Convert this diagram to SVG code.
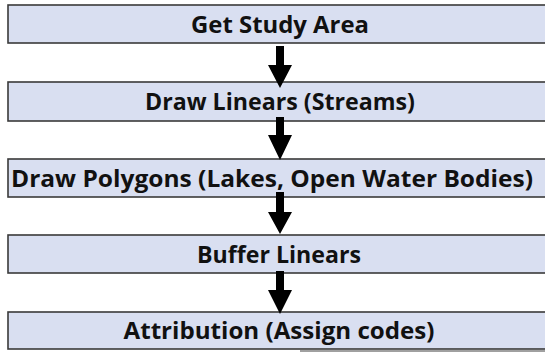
<svg xmlns="http://www.w3.org/2000/svg" width="545" height="352" viewBox="0 0 545 352">
  <style>
    .box { fill: #d9dff1; stroke: #3a3a3a; stroke-width: 1.6; }
    .label { font-family: "Open Sans", "Liberation Sans", sans-serif; font-weight: 700; font-size: 23.5px; fill: #111111; text-anchor: middle; }
    .arrow { fill: #000000; }
  </style>
  <rect width="545" height="352" fill="#ffffff"/>
  <g id="step-study-area">
    <rect class="box" x="8" y="5" width="545" height="38"/>
    <text class="label" x="280" y="33" textLength="178" lengthAdjust="spacingAndGlyphs">Get Study Area</text>
  </g>
  <g id="step-linears">
    <rect class="box" x="8" y="82" width="545" height="39"/>
    <text class="label" x="280" y="110" textLength="270" lengthAdjust="spacingAndGlyphs">Draw Linears (Streams)</text>
  </g>
  <g id="step-polygons">
    <rect class="box" x="8" y="159" width="545" height="38"/>
    <text class="label" x="272" y="187" textLength="522" lengthAdjust="spacingAndGlyphs">Draw Polygons (Lakes, Open Water Bodies)</text>
  </g>
  <g id="step-buffer">
    <rect class="box" x="8" y="235" width="545" height="38"/>
    <text class="label" x="279" y="263" textLength="164" lengthAdjust="spacingAndGlyphs">Buffer Linears</text>
  </g>
  <g id="step-attribution">
    <rect class="box" x="8" y="312" width="545" height="37"/>
    <text class="label" x="279" y="339" textLength="311" lengthAdjust="spacingAndGlyphs">Attribution (Assign codes)</text>
  </g>
  <rect x="300" y="350" width="245" height="2" fill="#a0a0a0"/>
  <g id="connectors">
    <polygon class="arrow" points="276,46 284,46 284,65 292,65 280,88 268,65 276,65"/>
    <polygon class="arrow" points="276,117 284,117 284,135 292,135 280,160 268,135 276,135"/>
    <polygon class="arrow" points="276,192 284,192 284,212 292,212 280,234 268,212 276,212"/>
    <polygon class="arrow" points="276,271 284,271 284,290 292,290 280,314 268,290 276,290"/>
  </g>
</svg>
